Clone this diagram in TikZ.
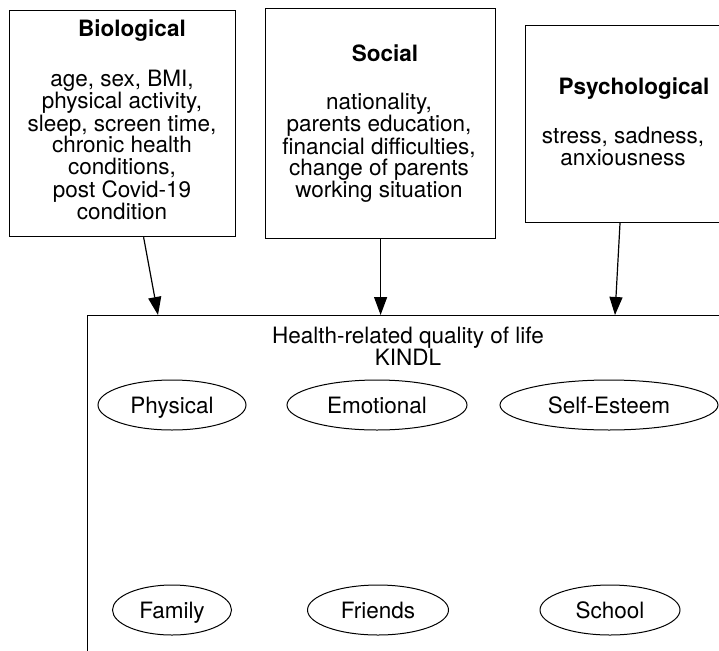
\documentclass[tikz,border=0pt]{standalone}
\usepackage{fontspec}
\setmainfont{TeX Gyre Heros}
\usetikzlibrary{shapes.geometric,arrows.meta}
\newcommand\linestack[1]{\vtop{\halign{\hfil##\hfil\cr#1\crcr}}}
\newcommand\diafont{\fontsize{22.5}{22}\selectfont\lineskiplimit=-100pt\lineskip=0pt\relax}
\begin{document}
\begin{tikzpicture}[x=1pt,y=-1pt,
  box/.style={draw,line width=1.2pt,inner sep=0pt,anchor=north west},
  lbl/.style={font=\diafont,inner sep=0pt,anchor=base},
  ttl/.style={font=\diafont\bfseries,inner sep=0pt,anchor=base},
  oval/.style={draw,ellipse,line width=1pt,inner sep=0pt,font=\diafont,
    text height=16.2pt,text depth=0pt},
  arr/.style={-{Triangle[length=18pt,width=13pt]},line width=1.2pt}]
\useasboundingbox (0,0) rectangle (719,650);
\path[clip] (0,0) rectangle (719,650);
% factor boxes
\node[box,minimum width=226pt,minimum height=226pt] (bio) at (9,10) {};
\node[box,minimum width=230pt,minimum height=230pt] (soc) at (265,8) {};
\node[box,minimum width=215pt,minimum height=197pt] (psy) at (525,25) {};
% texts of factor boxes
\node[ttl] (biot) at (132,37) {Biological};
\node[lbl] (biob) at (122,87) {\linestack{age, sex, BMI,\cr physical activity,\cr sleep, screen time,\cr chronic health\cr conditions,\cr post Covid-19\cr condition}};
\node[ttl] (soct) at (385,62) {Social};
\node[lbl] (socb) at (379,110) {\linestack{nationality,\cr parents education,\cr financial difficulties,\cr change of parents\cr working situation}};
\node[ttl] (psyt) at (634,95) {Psychological};
\node[lbl] (psyb) at (623,143) {\linestack{stress, sadness,\cr anxiousness}};
% HRQoL box
\node[box,minimum width=660pt,minimum height=360pt] (hq) at (87,315) {};
\node[lbl] (hqt) at (408,343) {\linestack{Health-related quality of life\cr KINDL}};
% domains
\node[oval,minimum width=148pt,minimum height=50pt] (phys) at (172,405) {Physical};
\node[oval,minimum width=180pt,minimum height=50pt] (emo) at (377,405) {Emotional};
\node[oval,minimum width=218pt,minimum height=50pt] (self) at (609,405) {Self-Esteem};
\node[oval,minimum width=119pt,minimum height=50pt] (fam) at (172,610) {Family};
\node[oval,minimum width=141pt,minimum height=50pt] (fri) at (378,610) {Friends};
\node[oval,minimum width=140pt,minimum height=50pt] (sch) at (610,610) {School};
% arrows
\draw[arr] ([xshift=21pt]bio.south) -- ([xshift=71pt]hq.north west);
\draw[arr] (soc.south) -- (soc.south |- hq.north);
\draw[arr] ([xshift=95pt]psy.south west) -- ([xshift=528pt]hq.north west);
\end{tikzpicture}
\end{document}
